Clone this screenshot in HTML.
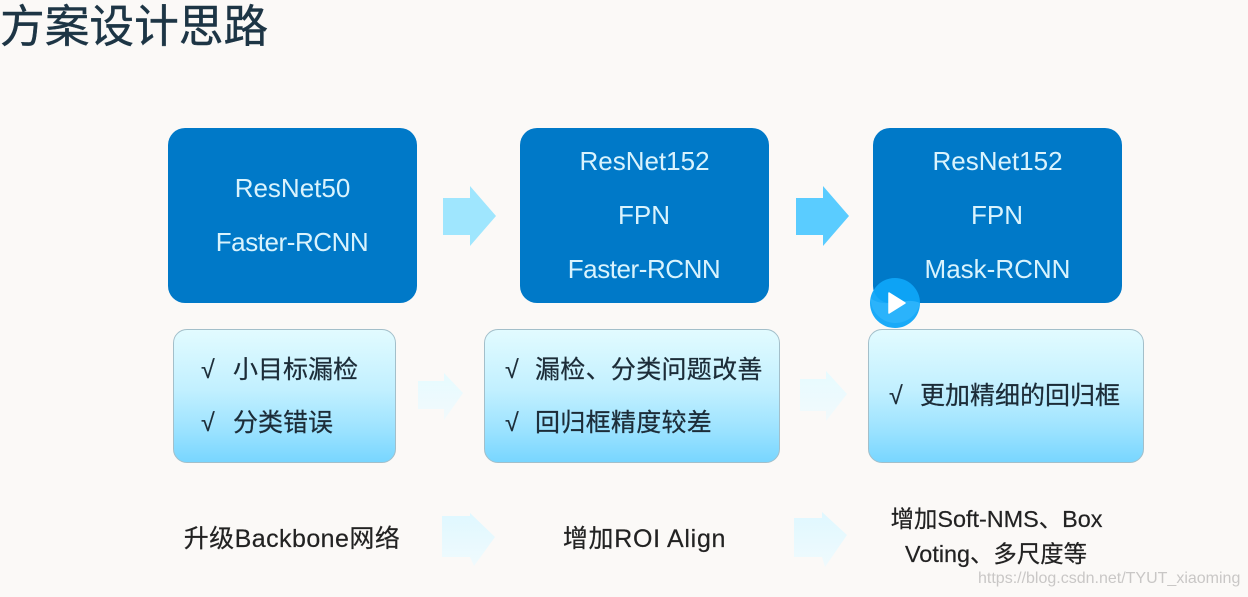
<!DOCTYPE html>
<html lang="zh">
<head>
<meta charset="utf-8">
<style>
html,body{margin:0;padding:0}
body{width:1248px;height:597px;position:relative;overflow:hidden;background:#fbf9f7;font-family:"Liberation Sans","Noto Sans CJK SC",sans-serif}
div{position:absolute;box-sizing:border-box}
.t{white-space:nowrap;line-height:36px;height:36px;filter:blur(.35px)}
.c{transform:translateX(-50%)}
.b{top:128px;height:175px;width:249px;background:#0079c8;border-radius:17px}
.w{color:#d9f3fd;font-size:26px}
.g{top:329px;height:134px;border-radius:14px;border:1px solid #a3bfca;background:linear-gradient(#e2fbff 0%,#c2f0ff 45%,#9de3ff 75%,#78d6ff 100%)}
.k{color:#1c2c38;font-size:25px;-webkit-text-stroke:.25px #1c2c38}
.d{color:#222;font-size:25px;-webkit-text-stroke:.2px #222}
svg{position:absolute;left:0;top:0}
</style>
</head>
<body>
<div class="t" style="left:0;top:3px;height:50px;line-height:50px;font-size:44.7px;color:#1d3545;-webkit-text-stroke:.4px #1d3545">方案设计思路</div>

<div class="b" style="left:168px"></div>
<div class="b" style="left:520px"></div>
<div class="b" style="left:873px"></div>

<div class="t w c" style="left:292.5px;top:170px">ResNet50</div>
<div class="t w c" style="left:292px;top:224px;letter-spacing:-.45px">Faster-RCNN</div>
<div class="t w c" style="left:644.5px;top:143px">ResNet152</div>
<div class="t w c" style="left:644px;top:197px">FPN</div>
<div class="t w c" style="left:644px;top:251px;letter-spacing:-.45px">Faster-RCNN</div>
<div class="t w c" style="left:997.5px;top:143px">ResNet152</div>
<div class="t w c" style="left:997px;top:197px">FPN</div>
<div class="t w c" style="left:997.5px;top:251px">Mask-RCNN</div>

<div class="g" style="left:173px;width:223px"></div>
<div class="g" style="left:484px;width:296px"></div>
<div class="g" style="left:868px;width:276px"></div>

<div class="t k" style="left:201px;top:352px">√</div>
<div class="t k" style="left:233px;top:352px">小目标漏检</div>
<div class="t k" style="left:201px;top:405px">√</div>
<div class="t k" style="left:233px;top:405px">分类错误</div>

<div class="t k" style="left:505px;top:352px">√</div>
<div class="t k" style="left:535px;top:352px;letter-spacing:.3px">漏检、分类问题改善</div>
<div class="t k" style="left:505px;top:405px">√</div>
<div class="t k" style="left:535px;top:405px;letter-spacing:.3px">回归框精度较差</div>

<div class="t k" style="left:889px;top:378px">√</div>
<div class="t k" style="left:920px;top:378px">更加精细的回归框</div>

<div class="t d c" style="left:292px;top:521px;letter-spacing:.45px">升级Backbone网络</div>
<div class="t d c" style="left:644.5px;top:521px;letter-spacing:.7px">增加ROI Align</div>
<div class="t d c" style="left:996.5px;top:501px;font-size:23.4px">增加Soft-NMS、Box</div>
<div class="t d c" style="left:996px;top:536px;font-size:23.4px">Voting、多尺度等</div>

<svg width="1248" height="597" viewBox="0 0 1248 597">
<defs>
<linearGradient id="f" x1="0" y1="0" x2="0" y2="1">
<stop offset="0" stop-color="#e6fbff"/><stop offset="1" stop-color="#f2fafc"/>
</linearGradient>
<linearGradient id="f2" x1="0" y1="0" x2="0" y2="1">
<stop offset="0" stop-color="#dff8ff"/><stop offset="1" stop-color="#f0fafd"/>
</linearGradient>
</defs>
<polygon points="443,198 470,198 470,186 496,216 470,246 470,235 443,235" fill="#9fe6fe"/>
<polygon points="796,198 823,198 823,186 849,216 823,246 823,235 796,235" fill="#5accff"/>

<polygon points="418,381 444,381 444,373 463,393 444,420 444,409 418,409" fill="url(#f)"/>
<polygon points="800,379 826,379 826,371 847,394 826,421 826,411 800,411" fill="url(#f)"/>
<polygon points="442,516 470,516 470,513 495,537 474,566 470,557 442,557" fill="url(#f2)"/>
<polygon points="794,518 822,518 822,512 847,535 825,567 822,557 794,557" fill="url(#f2)"/>

<circle cx="895" cy="303" r="25" fill="#0ea5f8" fill-opacity=".95"/>
<path d="M870.5 298 A25 25 0 0 0 920 303 C905 296 885 310 870.5 298Z" fill="#2bb3fb"/>
<polygon points="889,293 889,313 905,303" fill="#fff" stroke="#fff" stroke-width="1.5" stroke-linejoin="round"/>
</svg>

<div class="t" style="left:978px;top:561px;height:36px;font-size:16px;color:#c9c7c6;white-space:nowrap">https://blog.csdn.net/TYUT_xiaoming</div>
</body>
</html>
